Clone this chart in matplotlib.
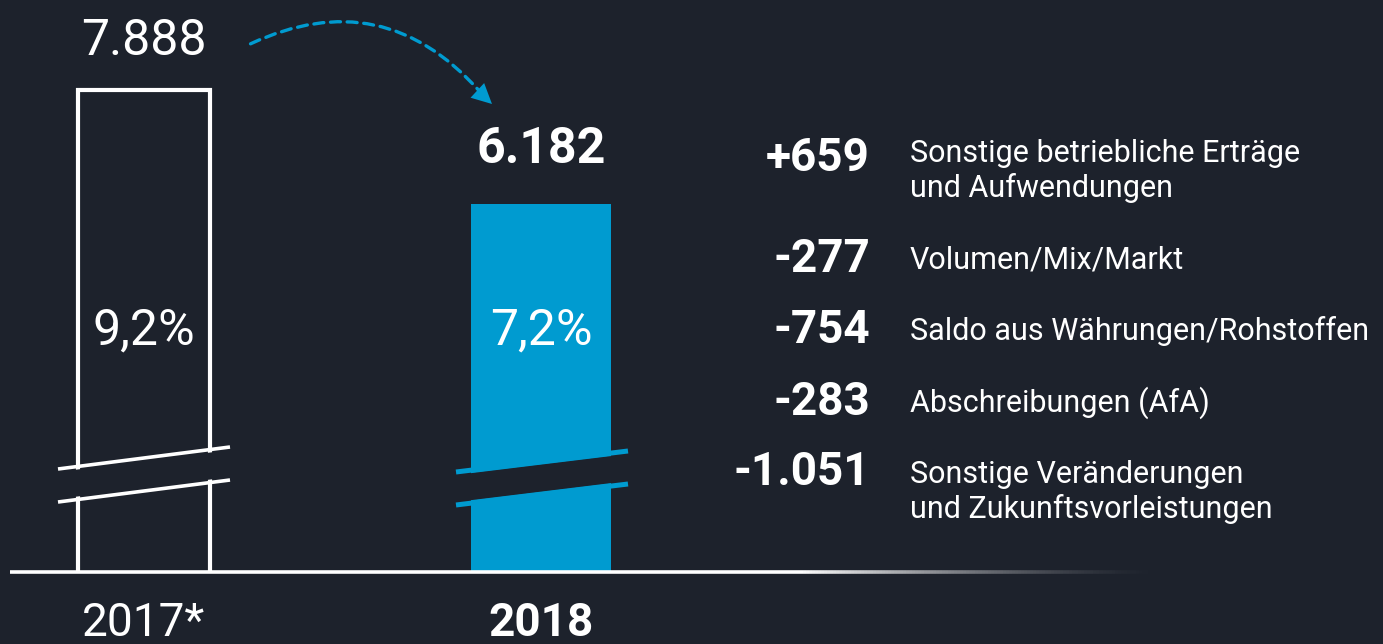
import numpy as np
import matplotlib
matplotlib.use("Agg")
import matplotlib.pyplot as plt
from matplotlib.collections import LineCollection
from matplotlib.patches import Polygon, FancyArrowPatch

# data
years = ["2017*", "2018"]
ebit = [7888, 6182]
ebit_labels = ["7.888", "6.182"]
margins = ["9,2%", "7,2%"]
bridge_values = ["+659", "-277", "-754", "-283", "-1.051"]
bridge_labels = ["Sonstige betriebliche Erträge\nund Aufwendungen",
                 "Volumen/Mix/Markt",
                 "Saldo aus Währungen/Rohstoffen",
                 "Abschreibungen (AfA)",
                 "Sonstige Veränderungen\nund Zukunftsvorleistungen"]

BG = "#1d222c"
BLUE = "#009bd0"
W, H = 1383, 644

plt.rcParams['font.family'] = ['Roboto', 'DejaVu Sans']

fig = plt.figure(figsize=(W / 100, H / 100), dpi=100, facecolor=BG)

# bar axes: truncated y axis (bottom cut off, hence the break marks)
ax = fig.add_axes([0, 72 / H, 1, 572 / H])
ax.set_facecolor(BG)
ax.set_xlim(-144 / 397, (W - 144) / 397)
ax.set_ylim(675, 9235)
ax.axis("off")
x = np.arange(len(years))
ax.bar(x[0], ebit[0], width=0.335, facecolor="none", edgecolor="white", linewidth=3)
ax.bar(x[1], ebit[1], width=0.353, color=BLUE, linewidth=0)

# overlay in pixel coordinates for the decorations and text
ov = fig.add_axes([0, 0, 1, 1], facecolor="none")
ov.set_xlim(0, W)
ov.set_ylim(H, 0)
ov.axis("off")

# break marks
def brk(x0, x1, ya, yb, dy, color, lw):
    gap = Polygon([(x0, ya + 3), (x1, yb + 3), (x1, yb + dy - 3), (x0, ya + dy - 3)],
                  closed=True, facecolor=BG, edgecolor="none", zorder=3)
    ov.add_patch(gap)
    ov.plot([x0, x1], [ya, yb], color=color, lw=lw, zorder=4, solid_capstyle="butt")
    ov.plot([x0, x1], [ya + dy, yb + dy], color=color, lw=lw, zorder=4, solid_capstyle="butt")

brk(58, 230, 469, 447, 33, "white", 2.6)
brk(456, 628, 472, 451, 33, BLUE, 3.6)

# baseline fading to the right
ov.plot([10, 800], [572, 572], color="white", lw=2.6, solid_capstyle="butt")
xs = np.linspace(800, 1160, 120)
segs = [[(xs[i], 572), (xs[i + 1], 572)] for i in range(len(xs) - 1)]
alphas = np.linspace(1, 0, len(segs)) ** 1.5
cols = [(1, 1, 1, a) for a in alphas]
ov.add_collection(LineCollection(segs, colors=cols, linewidths=2.6))

# dashed arrow: dashed arc + solid head
arc = FancyArrowPatch((248, 45), (482, 94), connectionstyle="arc3,rad=-0.38",
                      arrowstyle="-", color=BLUE, lw=2.4, linestyle=(0, (3, 2)))
ov.add_patch(arc)
ov.annotate("", xy=(492, 104), xytext=(478, 91),
            arrowprops=dict(arrowstyle="-|>,head_length=0.9,head_width=0.45",
                            color=BLUE, lw=0, shrinkA=0, shrinkB=0, mutation_scale=16))

# value labels
ov.text(144, 41, ebit_labels[0], color="white", fontsize=36, ha="center", va="center")
ov.text(541, 149, ebit_labels[1], color="white", fontsize=36, ha="center", va="center",
        fontweight="bold")
ov.text(144, 330, margins[0], color="white", fontsize=36, ha="center", va="center")
ov.text(541, 330, margins[1], color="white", fontsize=36, ha="center", va="center")
ov.text(144, 623, years[0], color="white", fontsize=33, ha="center", va="center")
ov.text(541, 623, years[1], color="white", fontsize=33, ha="center", va="center",
        fontweight="bold")

# bridge
val_y = [158, 259, 330, 402, 472]
lab_y = [171, 260, 331, 403, 492]
for v, vy, lab, ly in zip(bridge_values, val_y, bridge_labels, lab_y):
    ov.text(870, vy, v, color="white", fontsize=33, ha="right", va="center", fontweight="bold")
    ov.text(910, ly, lab, color="white", fontsize=22, ha="left", va="center", linespacing=1.2)

fig.savefig("out.png", dpi=100, facecolor=BG)
